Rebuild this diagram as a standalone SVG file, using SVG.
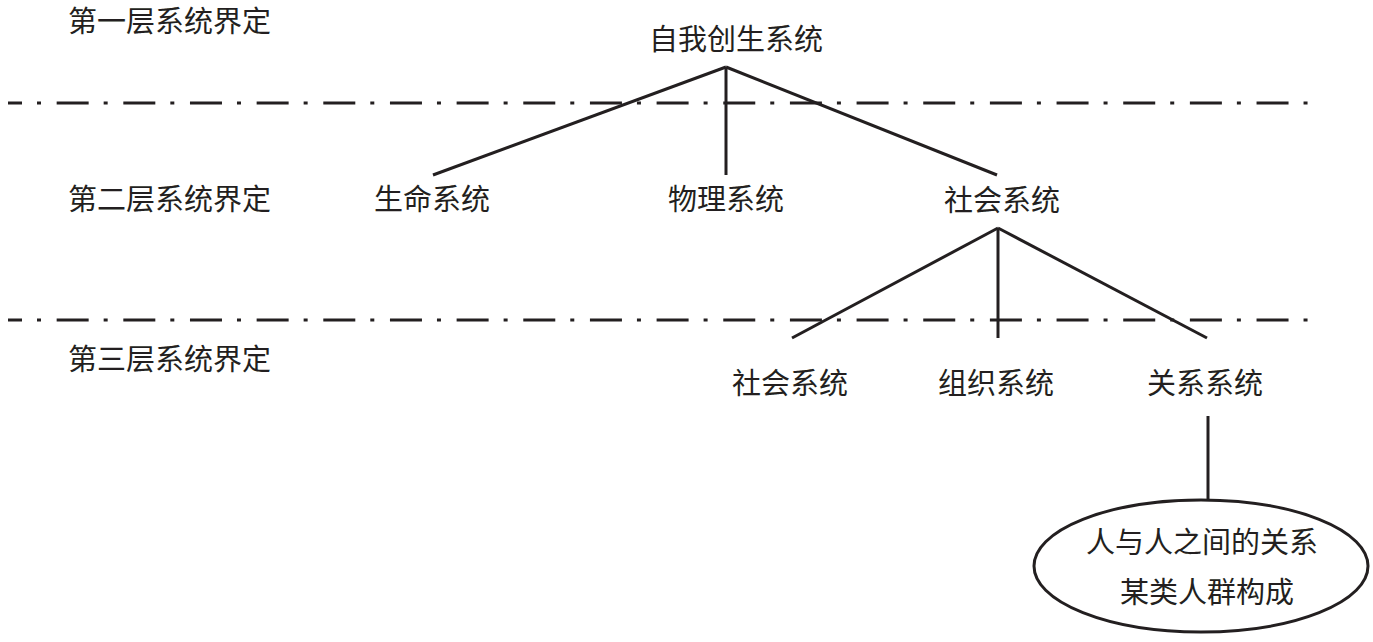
<svg xmlns="http://www.w3.org/2000/svg" width="1373" height="642" viewBox="0 0 1373 642">
<style>
  .t { font-family: "Noto Sans CJK SC", "Noto Sans", sans-serif; font-size: 29px; fill: #231f20; }
  .c { text-anchor: middle; }
  .ln { stroke: #231f20; stroke-width: 3; fill: none; }
  .dd { stroke: #231f20; stroke-width: 3; stroke-dasharray: 32 15 4 15.66; stroke-dashoffset: 18; fill: none; }
</style>
<rect width="1373" height="642" fill="#ffffff"/>
<g id="levels">
  <text class="t" x="68" y="32">第一层系统界定</text>
  <text class="t" x="68" y="210">第二层系统界定</text>
  <text class="t" x="68" y="370">第三层系统界定</text>
  <line class="dd" x1="8" y1="103" x2="1308" y2="103"/>
  <line class="dd" x1="8" y1="320" x2="1308" y2="320"/>
</g>
<g id="connectors">
  <line class="ln" x1="726" y1="67" x2="433" y2="175"/>
  <line class="ln" x1="726" y1="67" x2="726" y2="175"/>
  <line class="ln" x1="726" y1="67" x2="997" y2="175"/>
  <line class="ln" x1="998" y1="228" x2="792" y2="338"/>
  <line class="ln" x1="998" y1="228" x2="998" y2="338"/>
  <line class="ln" x1="998" y1="228" x2="1207" y2="338"/>
  <line class="ln" x1="1208" y1="416" x2="1208" y2="500"/>
</g>
<g id="node-autopoiesis"><text class="t c" x="736" y="50">自我创生系统</text></g>
<g id="node-life"><text class="t c" x="432" y="210">生命系统</text></g>
<g id="node-physical"><text class="t c" x="726" y="210">物理系统</text></g>
<g id="node-social2"><text class="t c" x="1002" y="211">社会系统</text></g>
<g id="node-social3"><text class="t c" x="790" y="394">社会系统</text></g>
<g id="node-org"><text class="t c" x="996" y="394">组织系统</text></g>
<g id="node-relation"><text class="t c" x="1205" y="394">关系系统</text></g>
<g id="node-ellipse">
  <ellipse class="ln" cx="1201" cy="566" rx="167" ry="66"/>
  <text class="t c" x="1202" y="553">人与人之间的关系</text>
  <text class="t c" x="1207" y="603">某类人群构成</text>
</g>
</svg>
